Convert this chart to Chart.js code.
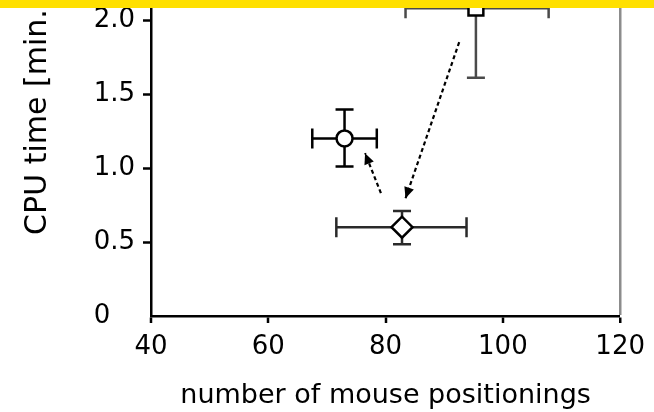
<!DOCTYPE html>
<html><head><meta charset="utf-8">
<script src="https://cdn.jsdelivr.net/npm/chart.js@4"></script>
<style>
html,body{margin:0;padding:0;background:#fff;overflow:hidden;width:654px;height:412px;}
#wrap{position:absolute;left:0;top:-115px;width:654px;height:527px;}
#topbar{position:absolute;left:0;top:0;width:654px;height:8px;background:#ffe000;z-index:2;}
</style></head><body>
<div id="wrap"><canvas id="c" width="654" height="527"></canvas></div>
<div id="topbar"></div>
<script>
// ---- data ----
const xMean  = [73.0, 82.8, 95.4];     // number of mouse positionings
const yMean  = [1.20, 0.60, 2.08];     // CPU time [min.]
const xLow   = [67.5, 71.6, 83.4];
const xHigh  = [78.5, 93.8, 107.8];
const yLow   = [1.01, 0.485, 1.61];
const yHigh  = [1.395, 0.71, 2.55];
const markerStyles = ['circle', 'rectRot', 'rect'];
const arrowFromX = [92.55, 79.2];
const arrowFromY = [1.85, 0.83];
const arrowToX   = [83.4, 76.5];
const arrowToY   = [0.795, 1.10];
const xTicks = [40, 60, 80, 100, 120];
const yTicks = [0, 0.5, 1.0, 1.5, 2.0];
const xTitle = 'number of mouse positionings';
const yTitle = 'CPU time [min.]';

const FONT = "'DejaVu Sans', sans-serif";
const errColors = ['#000000', '#2a2a2a', '#4a4a4a'];
const markerRadius = [8, 10.5, 10.5];

const datasets = [];
for (let i = 0; i < xMean.length; i++) {
  datasets.push({
    type: 'scatter',
    data: [{x: xMean[i], y: yMean[i]}],
    pointStyle: markerStyles[i],
    pointRadius: markerRadius[i],
    pointHoverRadius: markerRadius[i],
    pointBackgroundColor: '#ffffff',
    pointBorderColor: '#000000',
    pointBorderWidth: 2.5,
    order: 0
  });
}
for (let i = 0; i < arrowFromX.length; i++) {
  datasets.push({
    type: 'scatter',
    showLine: true,
    data: [{x: arrowFromX[i], y: arrowFromY[i]}, {x: arrowToX[i], y: arrowToY[i]}],
    borderColor: '#000',
    borderWidth: 2.2,
    borderDash: [4, 3],
    pointRadius: 0,
    order: 1
  });
}

const errorBars = {
  id: 'errorBars',
  beforeDatasetsDraw(chart) {
    const {ctx, scales: {x, y}} = chart;
    ctx.save();
    ctx.lineWidth = 2.5;
    for (let i = 0; i < xMean.length; i++) {
      const px = x.getPixelForValue(xMean[i]), py = y.getPixelForValue(yMean[i]);
      const xl = x.getPixelForValue(xLow[i]), xh = x.getPixelForValue(xHigh[i]);
      const yl = y.getPixelForValue(yLow[i]), yh = y.getPixelForValue(yHigh[i]);
      ctx.strokeStyle = errColors[i];
      ctx.beginPath();
      ctx.moveTo(xl, py); ctx.lineTo(xh, py);
      ctx.moveTo(xl, py - 10); ctx.lineTo(xl, py + 10);
      ctx.moveTo(xh, py - 10); ctx.lineTo(xh, py + 10);
      ctx.moveTo(px, yl); ctx.lineTo(px, yh);
      ctx.moveTo(px - 9, yl); ctx.lineTo(px + 9, yl);
      ctx.moveTo(px - 9, yh); ctx.lineTo(px + 9, yh);
      ctx.stroke();
    }
    ctx.restore();
  }
};

const arrowHeads = {
  id: 'arrowHeads',
  afterDatasetsDraw(chart) {
    const {ctx, scales: {x, y}} = chart;
    ctx.save();
    ctx.fillStyle = '#000';
    for (let i = 0; i < arrowFromX.length; i++) {
      const x0 = x.getPixelForValue(arrowFromX[i]), y0 = y.getPixelForValue(arrowFromY[i]);
      const x1 = x.getPixelForValue(arrowToX[i]), y1 = y.getPixelForValue(arrowToY[i]);
      const a = Math.atan2(y1 - y0, x1 - x0);
      const L = 11, W = 5;
      ctx.beginPath();
      ctx.moveTo(x1, y1);
      ctx.lineTo(x1 - L * Math.cos(a) + W * Math.sin(a), y1 - L * Math.sin(a) - W * Math.cos(a));
      ctx.lineTo(x1 - L * Math.cos(a) - W * Math.sin(a), y1 - L * Math.sin(a) + W * Math.cos(a));
      ctx.closePath();
      ctx.fill();
    }
    ctx.restore();
  }
};

new Chart(document.getElementById('c'), {
  data: {datasets},
  plugins: [errorBars, arrowHeads],
  options: {
    responsive: false,
    animation: false,
    events: [],
    layout: {padding: {top: 31.4, right: 28, bottom: 0, left: 0}},
    plugins: {legend: {display: false}, tooltip: {enabled: false}},
    scales: {
      x: {
        type: 'linear',
        min: 40, max: 120,
        afterBuildTicks(s) { s.ticks = xTicks.map(v => ({value: v})); },
        afterFit(s) { s.height = 96; },
        border: {display: true, color: '#000', width: 2.5},
        grid: {
          drawOnChartArea: true,
          color: c => (c.tick && c.tick.value === 120) ? '#8c8c8c' : 'rgba(0,0,0,0)',
          lineWidth: c => (c.tick && c.tick.value === 120) ? 2.5 : 0,
          tickColor: '#000', tickWidth: 2.5, tickLength: 7
        },
        ticks: {color: '#000', font: {family: FONT, size: 26}, padding: 9, maxRotation: 0},
        title: {display: true, text: xTitle, color: '#000', font: {family: FONT, size: 27}, padding: {top: 0, bottom: 0}}
      },
      y: {
        type: 'linear',
        min: 0, max: 2.7,
        afterBuildTicks(s) { s.ticks = yTicks.map(v => ({value: v})); },
        afterFit(s) { s.width = 151; },
        border: {display: true, color: '#000', width: 2.5},
        grid: {
          drawOnChartArea: false,
          tickColor: c => (c.tick && c.tick.value === 0) ? 'rgba(0,0,0,0)' : '#000',
          tickWidth: 2.5, tickLength: 8
        },
        ticks: {
          color: '#000', font: {family: FONT, size: 26}, padding: 8,
          callback: v => v === 0 ? '0   ' : v.toFixed(1)
        },
        title: {display: true, text: yTitle, color: '#000', font: {family: FONT, size: 30}, padding: {top: 20, bottom: 0}}
      }
    }
  }
});
</script>
</body></html>
